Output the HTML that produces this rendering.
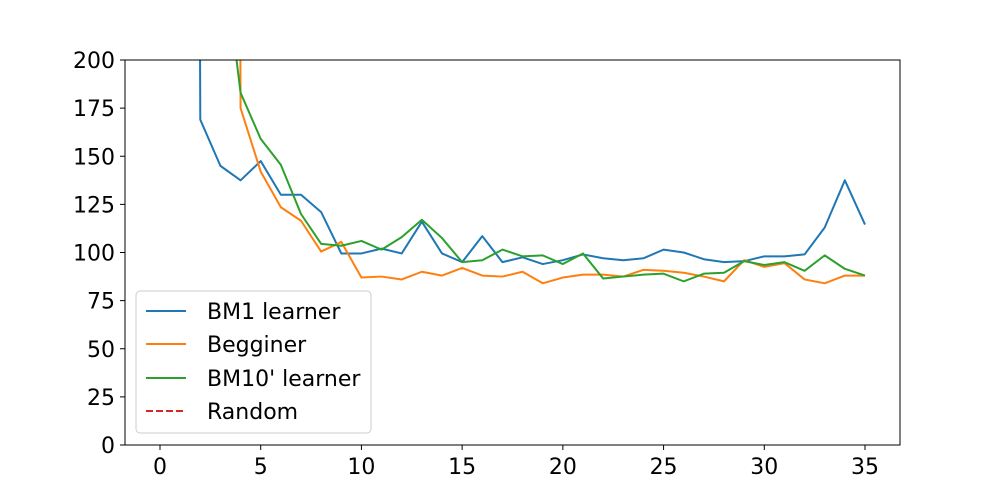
<!DOCTYPE html>
<html><head><meta charset="utf-8"><style>
body{margin:0;background:#fff;}
svg{display:block;font-family:"DejaVu Sans","Liberation Sans",sans-serif;}
</style></head><body>
<svg id="chart" width="1000" height="500">
<defs><clipPath id="clip"><rect x="125" y="60" width="775" height="385"/></clipPath></defs>
<rect x="0" y="0" width="1000" height="500" fill="#fff"/>
<g id="series" clip-path="url(#clip)"></g>
<rect x="125" y="60" width="775" height="385" fill="none" stroke="#000" stroke-width="1"/>
<g id="axes"></g>
<g>
<rect x="136" y="291" width="235" height="142" rx="4" fill="#fff" fill-opacity="0.8" stroke="#ccc"/>
<line x1="146" y1="311" x2="186" y2="311" stroke="#1f77b4" stroke-width="2"/>
<text x="207" y="319" font-size="22">BM1 learner</text>
<line x1="146" y1="344" x2="186" y2="344" stroke="#ff7f0e" stroke-width="2"/>
<text x="207" y="352" font-size="22">Begginer</text>
<line x1="146" y1="378" x2="186" y2="378" stroke="#2ca02c" stroke-width="2"/>
<text x="207" y="386" font-size="22">BM10' learner</text>
<line x1="146" y1="411" x2="186" y2="411" stroke="#d62728" stroke-width="2" stroke-dasharray="7,3"/>
<text x="207" y="419" font-size="22">Random</text>
</g>
</svg>
<script>
const bm1X = [1,2,3,4,5,6,7,8,9,10,11,12,13,14,15,16,17,18,19,20,21,22,23,24,25,26,27,28,29,30,31,32,33,34,35];
const bm1Y = [3000,169,145,137.5,147.5,130,130,121,99.5,99.5,102,99.5,116,99.5,95,108.5,95,97.5,94,96,99,97,96,97,101.5,100,96.5,95,95.5,98,98,99,113,137.5,114.5];
const begX = [3,4,5,6,7,8,9,10,11,12,13,14,15,16,17,18,19,20,21,22,23,24,25,26,27,28,29,30,31,32,33,34,35];
const begY = [3000,175,142,123.5,116.5,100.5,105.5,87,87.5,86,90,88,92,88,87.5,90,84,87,88.5,88.5,87.5,91,90.5,89.5,87.5,85,96,92.5,94.5,86,84,88,88];
const bm10X = [3,4,5,6,7,8,9,10,11,12,13,14,15,16,17,18,19,20,21,22,23,24,25,26,27,28,29,30,31,32,33,34,35];
const bm10Y = [268,183,159,145.5,120,104.5,103.5,106,101.5,108,117,107.5,95,96,101.5,98,98.5,94,99.5,86.5,87.5,88.5,89,85,89,89.5,95.5,93.5,95,90.5,98.5,91.5,88];
const xTicks = [0,5,10,15,20,25,30,35];
const yTicks = [0,25,50,75,100,125,150,175,200];

const NS="http://www.w3.org/2000/svg";
const xs = v => 160 + v*(865-160)/35;
const ys = v => 445 - v*(385/200);
const seriesG=document.getElementById('series');
function addLine(X,Y,color,name){
  const p=document.createElementNS(NS,'polyline');
  p.setAttribute('points',X.map((x,i)=>xs(x)+','+ys(Y[i])).join(' '));
  p.setAttribute('fill','none');p.setAttribute('stroke',color);p.setAttribute('stroke-width','2');
  p.setAttribute('stroke-linejoin','round');
  
  
  seriesG.appendChild(p);
}
addLine(bm1X,bm1Y,'#1f77b4','bm1-learner-line');
addLine(begX,begY,'#ff7f0e','begginer-line');
addLine(bm10X,bm10Y,'#2ca02c','bm10-learner-line');
const ax=document.getElementById('axes');
xTicks.forEach(t=>{
  const l=document.createElementNS(NS,'line');
  l.setAttribute('x1',xs(t));l.setAttribute('x2',xs(t));l.setAttribute('y1',445);l.setAttribute('y2',450);l.setAttribute('stroke','#000');
  
  
  ax.appendChild(l);
  const tx=document.createElementNS(NS,'text');
  tx.setAttribute('x',xs(t));tx.setAttribute('y',474);tx.setAttribute('font-size','22');tx.setAttribute('text-anchor','middle');
  tx.textContent=t;
  
  
  ax.appendChild(tx);
});
yTicks.forEach(t=>{
  const l=document.createElementNS(NS,'line');
  l.setAttribute('x1',120);l.setAttribute('x2',125);l.setAttribute('y1',ys(t));l.setAttribute('y2',ys(t));l.setAttribute('stroke','#000');
  
  
  ax.appendChild(l);
  const tx=document.createElementNS(NS,'text');
  tx.setAttribute('x',115);tx.setAttribute('y',ys(t)+8);tx.setAttribute('font-size','22');tx.setAttribute('text-anchor','end');
  tx.textContent=t;
  
  
  ax.appendChild(tx);
});
</script>
</body></html>
